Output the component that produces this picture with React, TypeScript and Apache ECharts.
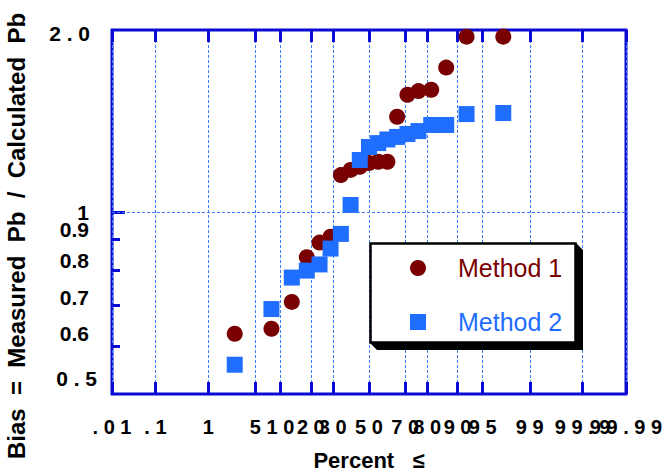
import React, { useEffect, useRef } from "react";
import * as echarts from "echarts";

// ---- data ----
const plottingPercents = [2.6, 7.9, 13.2, 18.4, 23.7, 28.9, 34.2, 39.5, 44.7, 50, 55.3, 60.5, 65.8, 71.1, 76.3, 81.6, 86.8, 92.1, 97.4];
const method1 = [0.629, 0.641, 0.71, 0.842, 0.89, 0.91, 1.151, 1.174, 1.188, 1.205, 1.211, 1.211, 1.437, 1.563, 1.585, 1.593, 1.733, 1.95, 1.95];
const method2 = [0.559, 0.691, 0.779, 0.8, 0.819, 0.87, 0.92, 1.027, 1.219, 1.281, 1.3, 1.318, 1.331, 1.346, 1.361, 1.393, 1.393, 1.452, 1.458];
const xTickPercents = [0.01, 0.1, 1, 5, 10, 20, 30, 50, 70, 80, 90, 95, 99, 99.9, 99.99];
const xTickLabels = [". 0 1", ". 1", "1", "5", "1 0", "2 0", "3 0", "5 0", "7 0", "8 0", "9 0", "9 5", "9 9", "9 9 . 9", "9 9 . 9 9"];
// labels drawn on a second label row so the axis does not drop them where they overlap
const xSecondRowPercents = [99.9];
const yTickValues = [0.6, 0.7, 0.8, 0.9, 1];
const yLongTickValues = [1];
const yLabelValues = [0.5, 0.6, 0.7, 0.8, 0.9, 1, 2];
const yLabelTexts = ["0 . 5", "0.6", "0.7", "0.8", "0.9", "1", "2 . 0"];
const seriesNames = ["Method 1", "Method 2"];

// inverse normal CDF (probability-paper scale)
function probit(p: number): number {
  const a = [-3.969683028665376e1, 2.209460984245205e2, -2.759285104469687e2, 1.38357751867269e2, -3.066479806614716e1, 2.506628277459239];
  const b = [-5.447609879822406e1, 1.615858368580409e2, -1.556989798598866e2, 6.680131188771972e1, -1.328068155288572e1];
  const c = [-7.784894002430293e-3, -3.223964580411365e-1, -2.400758277161838, -2.549732539343734, 4.374664141464968, 2.938163982698783];
  const d = [7.784695709041462e-3, 3.224671290700398e-1, 2.445134137142996, 3.754408661907416];
  const pl = 0.02425;
  if (p < pl) {
    const q = Math.sqrt(-2 * Math.log(p));
    return (((((c[0] * q + c[1]) * q + c[2]) * q + c[3]) * q + c[4]) * q + c[5]) / ((((d[0] * q + d[1]) * q + d[2]) * q + d[3]) * q + 1);
  }
  if (p <= 1 - pl) {
    const q = p - 0.5;
    const r = q * q;
    return ((((((a[0] * r + a[1]) * r + a[2]) * r + a[3]) * r + a[4]) * r + a[5]) * q) / (((((b[0] * r + b[1]) * r + b[2]) * r + b[3]) * r + b[4]) * r + 1);
  }
  const q = Math.sqrt(-2 * Math.log(1 - p));
  return -(((((c[0] * q + c[1]) * q + c[2]) * q + c[3]) * q + c[4]) * q + c[5]) / ((((d[0] * q + d[1]) * q + d[2]) * q + d[3]) * q + 1);
}

const AXIS_BLUE = "#0a0ad2";
const GRID_BLUE = "#3a7cff";
const RED = "#780000";
const BLUE = "#1f6eff";
const FONT = "Liberation Sans, Arial, sans-serif";

export default function App() {
  const ref = useRef<HTMLDivElement>(null);
  useEffect(() => {
    if (!ref.current) return;
    const chart = echarts.init(ref.current, null, { renderer: "svg" });
    const xTicksZ = xTickPercents.map((p) => probit(p / 100));
    const secondRowZ = xSecondRowPercents.map((p) => probit(p / 100));
    const firstRowZ = xTickPercents.filter((p) => xSecondRowPercents.indexOf(p) < 0).map((p) => probit(p / 100));
    const xMin = xTicksZ[0];
    const xMax = xTicksZ[xTicksZ.length - 1];
    const xLabel = (v: number) => {
      let best = 0;
      for (let i = 1; i < xTicksZ.length; i++) if (Math.abs(xTicksZ[i] - v) < Math.abs(xTicksZ[best] - v)) best = i;
      return xTickLabels[best];
    };
    const yRich: any = {
      r0: { padding: [0, 0, 32, 0] },
      r1: { padding: [0, 8, 26, 0] },
      r2: { padding: [0, 8, 16, 0] },
      r3: { padding: [0, 8, 20, 0] },
      r4: { padding: [0, 8, 20, 0] },
      r5: { padding: [0, 8, 0, 0] },
      r6: { padding: [6, 7, 0, 0] },
    };
    Object.keys(yRich).forEach((k) => {
      yRich[k] = { ...yRich[k], fontFamily: FONT, fontWeight: "bold", fontSize: 21, color: "#000" };
    });
    const yLabel = (v: number) => {
      let best = 0;
      for (let i = 1; i < yLabelValues.length; i++) if (Math.abs(yLabelValues[i] - v) < Math.abs(yLabelValues[best] - v)) best = i;
      return "{r" + best + "|" + yLabelTexts[best] + "}";
    };
    const xLabelStyle = {
      show: true,
      formatter: xLabel,
      margin: 23,
      showMinLabel: true,
      showMaxLabel: true,
      hideOverlap: false,
      fontFamily: FONT,
      fontWeight: "bold",
      fontSize: 20,
      color: "#000",
    };
    const xAxisBase = {
      type: "value",
      min: xMin,
      max: xMax,
      axisLine: { show: false, onZero: false },
      axisTick: { show: true, inside: true, length: 12, customValues: xTicksZ, lineStyle: { color: AXIS_BLUE, width: 3 } },
    };
    const yAxisBase = {
      type: "log",
      logBase: 10,
      min: 0.5,
      max: 2,
      position: "left",
      axisLine: { show: false, onZero: false },
      splitLine: { show: false },
    };
    const option: any = {
      animation: false,
      backgroundColor: "#fff",
      grid: {
        left: 112,
        top: 30,
        right: 39,
        bottom: 81,
        show: true,
        borderColor: AXIS_BLUE,
        borderWidth: 3,
        backgroundColor: "transparent",
        outerBoundsMode: "none",
        containLabel: false,
      },
      xAxis: [
        {
          ...xAxisBase,
          position: "bottom",
          name: "Percent   \u2264",
          nameLocation: "middle",
          nameGap: 55,
          nameTextStyle: { fontFamily: FONT, fontWeight: "bold", fontSize: 22, color: "#000" },
          axisLabel: { ...xLabelStyle, customValues: firstRowZ },
          splitLine: { show: true, lineStyle: { color: GRID_BLUE, width: 1, type: [3, 2] } },
        },
        {
          ...xAxisBase,
          position: "top",
          axisLabel: { show: false },
          splitLine: { show: false },
        },
        {
          ...xAxisBase,
          position: "bottom",
          axisTick: { show: false },
          axisLabel: { ...xLabelStyle, customValues: secondRowZ },
          splitLine: { show: false },
        },
      ],
      yAxis: [
        {
          ...yAxisBase,
          axisTick: { show: true, inside: true, length: 8, customValues: yTickValues, lineStyle: { color: AXIS_BLUE, width: 3 } },
          axisLabel: {
            show: true,
            customValues: yLabelValues,
            formatter: yLabel,
            margin: 15,
            showMinLabel: true,
            showMaxLabel: true,
            hideOverlap: false,
            fontFamily: FONT,
            fontWeight: "bold",
            fontSize: 21,
            color: "#000",
            rich: yRich,
          },
          name: "Bias  =  Measured  Pb  /  Calculated  Pb",
          nameLocation: "middle",
          nameGap: 84,
          nameRotate: 90,
          nameTextStyle: { fontFamily: FONT, fontWeight: "bold", fontSize: 24, color: "#000", padding: [0, 48, 0, 0] },
        },
        {
          ...yAxisBase,
          axisTick: { show: true, inside: true, length: 13, customValues: yLongTickValues, lineStyle: { color: AXIS_BLUE, width: 3 } },
          axisLabel: { show: false },
        },
      ],
      series: [
        {
          type: "line",
          name: "ref",
          data: [],
          z: 1,
          silent: true,
          markLine: {
            silent: true,
            symbol: "none",
            label: { show: false },
            lineStyle: { color: GRID_BLUE, width: 1, type: [3, 2] },
            data: [{ yAxis: 1 }],
          },
        },
        {
          type: "scatter",
          name: seriesNames[0],
          symbol: "circle",
          symbolSize: 16,
          itemStyle: { color: RED, opacity: 1 },
          data: plottingPercents.map((p, i) => [probit(p / 100), method1[i]]),
          z: 3,
        },
        {
          type: "scatter",
          name: seriesNames[1],
          symbol: "rect",
          symbolSize: 16,
          itemStyle: { color: BLUE, opacity: 1 },
          data: plottingPercents.map((p, i) => [probit(p / 100), method2[i]]),
          z: 4,
        },
      ],
      graphic: [
        {
          type: "polygon",
          shape: { points: [[576, 243], [583, 250], [583, 350], [377, 350], [370, 343]] },
          style: { fill: "#000" },
          z: 10,
        },
        {
          type: "rect",
          shape: { x: 370.5, y: 243.5, width: 205, height: 99 },
          style: { fill: "#fff", stroke: "#000", lineWidth: 2.5 },
          z: 11,
        },
        { type: "circle", shape: { cx: 418, cy: 268, r: 8 }, style: { fill: RED }, z: 12 },
        { type: "rect", shape: { x: 410, y: 314, width: 16, height: 16 }, style: { fill: BLUE }, z: 12 },
        {
          type: "text",
          x: 458,
          y: 268,
          style: { text: seriesNames[0], fill: RED, font: "25px " + FONT, textVerticalAlign: "middle", verticalAlign: "middle" },
          z: 12,
        },
        {
          type: "text",
          x: 458,
          y: 322,
          style: { text: seriesNames[1], fill: BLUE, font: "25px " + FONT, textVerticalAlign: "middle", verticalAlign: "middle" },
          z: 12,
        },
      ],
    };
    chart.setOption(option);
    return () => chart.dispose();
  }, []);
  return <div ref={ref} style={{ position: "fixed", left: 0, top: 0, width: 665, height: 475 }} />;
}
